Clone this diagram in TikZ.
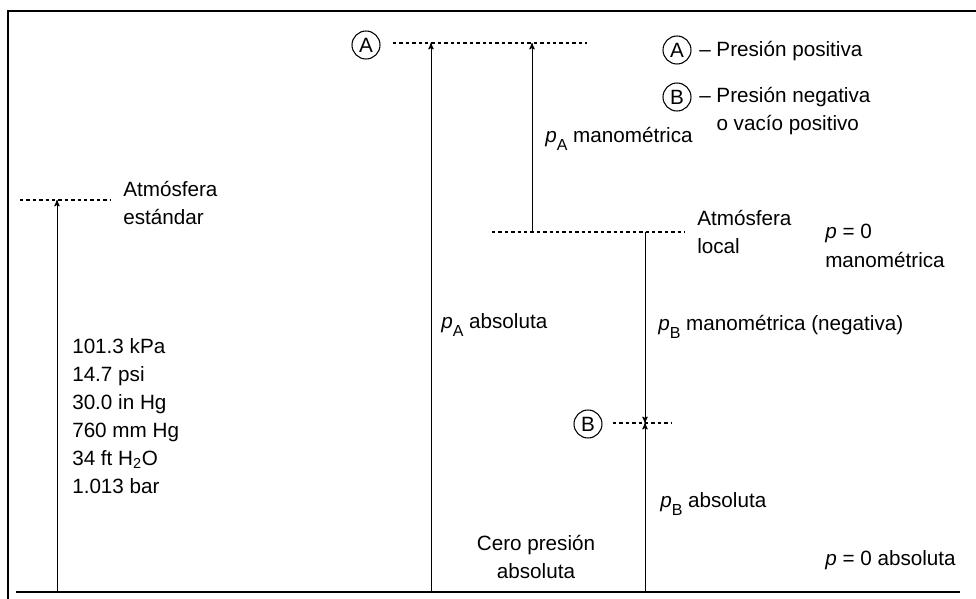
\documentclass[tikz,border=0pt]{standalone}
\usepackage{fontspec}
\setmainfont{Liberation Sans}
\usetikzlibrary{arrows,positioning}

\newcommand{\psub}[1]{\textit{p}\raisebox{-6pt}{\fontsize{12}{12}\selectfont #1}}

\begin{document}
\begin{tikzpicture}[x=0.75pt,y=-0.75pt,>=stealth',
  every node/.style={font=\fontsize{15.5}{21.5}\selectfont},
  level/.style={dash pattern=on 2.6pt off 2.2pt,line width=0.8pt},
  rise/.style={->,line width=0.75pt,shorten >=0pt},
  ring/.style={circle,draw,line width=0.8pt,inner sep=0pt,minimum size=21pt},
  txt/.style={inner sep=0pt,align=left,anchor=west},
  lbl/.style={inner sep=0pt,anchor=base west}]

\useasboundingbox (0,0) rectangle (976,599);

% frame and zero absolute pressure
\draw[line width=1.6pt] (8,599) -- (8,11) -- (976,11);
\coordinate (zero0) at (16,592);
\coordinate (zero1) at (960,592);
\draw[line width=1.5pt] (zero0) -- (zero1);

% pressure levels
\coordinate (std0) at (20,200);  \coordinate (std1) at (110,200);
\coordinate (lvA0) at (393,43);  \coordinate (lvA1) at (587,43);
\coordinate (loc0) at (492,232); \coordinate (loc1) at (685,232);
\coordinate (lvB0) at (613,423); \coordinate (lvB1) at (672,423);
\draw[level] (std0) -- (std1);
\draw[level] (lvA0) -- (lvA1);
\draw[level] (loc0) -- (loc1);
\draw[level] (lvB0) -- (lvB1);

% arrow ends
\coordinate (stdBot) at (57,592);  \coordinate (stdTop) at (57,200);
\coordinate (absBot) at (431,592); \coordinate (absTop) at (431,43);
\coordinate (manBot) at (532,232); \coordinate (manTop) at (532,43);
\coordinate (negTop) at (645,232); \coordinate (negB) at (645,423);
\coordinate (bBot) at (645,592);

\draw[rise] (stdBot) -- (stdTop);
\draw[rise] (absBot) -- (absTop);
\draw[rise] (manBot) -- (manTop);
\draw[rise] (negTop) -- (negB);
\draw[rise] (bBot) -- (negB);

% points A and B
\node[ring] (ptA) at (366,45) {A};
\node[ring] (ptB) at (588,424) {B};

% legend
\node[ring] (legA) at (677,50) {A};
\node[ring] (legB) at (677,97) {B};
\node[lbl] (legAtxt) at (699,57) {– Presión positiva};
\node[txt] (legBtxt) at (699,111) {– Presión negativa\\\phantom{– }o vacío positivo};

% labels
\node[txt] (stdTxt) at (123,203) {Atmósfera\\estándar};
\node[txt,font=\fontsize{15.5}{21}\selectfont] (stdVal) at (72,416)
  {101.3 kPa\\14.7 psi\\30.0 in Hg\\760 mm Hg\\34 ft H\textsubscript{2}O\\1.013 bar};
\node[lbl] (absA) at (441,329) {\psub{A} absoluta};
\node[lbl] (manA) at (545,143) {\psub{A} manométrica};
\node[txt] (locTxt) at (697,232) {Atmósfera\\local};
\node[txt] (manZero) at (825,246) {\textit{p} = 0\\manométrica};
\node[lbl] (negBtxt) at (658,330) {\psub{B} manométrica (negativa)};
\node[lbl] (absB) at (660,507) {\psub{B} absoluta};
\node[inner sep=0pt,align=center] (zeroTxt) at (536,557) {Cero presión\\absoluta};
\node[lbl] (absZero) at (825,565) {\textit{p} = 0 absoluta};

\end{tikzpicture}
\end{document}
